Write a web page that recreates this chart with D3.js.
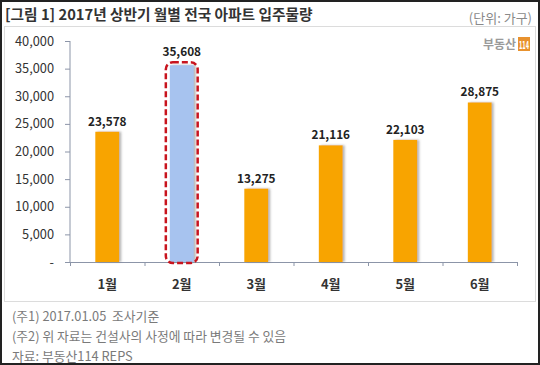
<!DOCTYPE html>
<html>
<head>
<meta charset="utf-8">
<script src="https://cdn.jsdelivr.net/npm/d3@7"></script>
<style>
  body { margin: 0; background: #fff; }
  svg { display: block; font-family: "Noto Sans CJK KR", "Noto Sans", sans-serif; }
</style>
</head>
<body>
<svg id="chart"></svg>
<script>
// data
const months = ['1월', '2월', '3월', '4월', '5월', '6월'];
const supply = [23578, 35608, 13275, 21116, 22103, 28875];
const yTicks = [0, 5000, 10000, 15000, 20000, 25000, 30000, 35000, 40000];
const highlightMonth = '2월';
const notes = ['(주1) 2017.01.05  조사기준', '(주2) 위 자료는 건설사의 사정에 따라 변경될 수 있음', '자료: 부동산114 REPS'];

const W = 540, H = 365;
const margin = {top: 41, right: 23, bottom: 103, left: 70};
const width = W - margin.left - margin.right;
const height = H - margin.top - margin.bottom;

const svg = d3.select('#chart').attr('width', W).attr('height', H);

// drop shadow for bars
const defs = svg.append('defs');
const f = defs.append('filter').attr('id', 'shadow')
    .attr('x', '-20%').attr('y', '-5%').attr('width', '160%').attr('height', '120%');
f.append('feDropShadow').attr('dx', 2).attr('dy', 0).attr('stdDeviation', 1)
    .attr('flood-color', '#777').attr('flood-opacity', 0.55);

// outer frame and inner panel
svg.append('rect').attr('x', 1).attr('y', 1).attr('width', W - 2).attr('height', H - 2)
    .attr('fill', '#fff').attr('stroke', '#222').attr('stroke-width', 2);
svg.append('rect').attr('x', 4.5).attr('y', 26.5).attr('width', 531).attr('height', 275)
    .attr('fill', '#fff').attr('stroke', '#dcdcdc');

// title
svg.append('text').attr('x', 5).attr('y', 20)
    .attr('font-size', 14.7).attr('font-weight', 'bold').attr('fill', '#333')
    .text('[그림 1] 2017년 상반기 월별 전국 아파트 입주물량');
svg.append('text').attr('x', 532).attr('y', 23).attr('text-anchor', 'end')
    .attr('font-size', 13).attr('fill', '#8a8a8a').text('(단위: 가구)');

// logo
const logo = svg.append('g');
logo.append('text').attr('x', 516).attr('y', 49).attr('text-anchor', 'end')
    .attr('font-size', 12).attr('font-weight', 'bold').attr('fill', '#9a9a9a').text('부동산');
logo.append('rect').attr('x', 518).attr('y', 37).attr('width', 12).attr('height', 14).attr('fill', '#e8922e');
logo.append('text').attr('x', 524).attr('y', 48.5).attr('text-anchor', 'middle')
    .attr('font-size', 10).attr('font-weight', 'bold').attr('fill', '#fff')
    .attr('font-family', '"DejaVu Sans Condensed", "Liberation Sans Narrow", sans-serif')
    .attr('textLength', 10).attr('lengthAdjust', 'spacingAndGlyphs').text('114');

const chart = svg.append('g').attr('transform', `translate(${margin.left},${margin.top})`);

// scales
const x = d3.scaleBand().domain(months).range([0, width]).paddingInner(0.68).paddingOuter(0.34);
const y = d3.scaleLinear().domain([0, 40000]).range([height, 0]);
const xEdges = d3.scaleLinear().domain([0, months.length]).range([0, width]);

// y axis
const yAxisG = chart.append('g')
    .call(d3.axisLeft(y).tickValues(yTicks).tickSize(5).tickPadding(11)
        .tickFormat(d => d === 0 ? '-' : d3.format(',')(d)));
yAxisG.select('.domain').attr('stroke', '#8c95a8').attr('d', `M0,0V${height}`);
yAxisG.selectAll('.tick line').attr('stroke', '#8c95a8');
yAxisG.selectAll('.tick text').attr('font-size', 12.8).attr('fill', '#333')
    .attr('font-family', '"Noto Sans CJK KR", sans-serif');

// x axis (ticks at category edges)
const xAxisG = chart.append('g').attr('transform', `translate(0,${height})`)
    .call(d3.axisBottom(xEdges).ticks(months.length).tickSize(4).tickFormat(''));
xAxisG.select('.domain').attr('stroke', '#8c95a8');
xAxisG.selectAll('.tick line').attr('stroke', '#8c95a8');

// month labels
chart.selectAll('.month')
  .data(months)
  .join('text')
    .attr('class', 'month')
    .attr('x', d => x(d) + x.bandwidth() / 2)
    .attr('y', height + 27)
    .attr('text-anchor', 'middle')
    .attr('font-size', 13).attr('font-weight', 'bold').attr('fill', '#333')
    .text(d => d);

const rows = months.map((m, i) => ({month: m, value: supply[i]}));

// bars
chart.selectAll('.bar')
  .data(rows)
  .join('rect')
    .attr('class', 'bar')
    .attr('x', d => x(d.month))
    .attr('y', d => y(d.value))
    .attr('width', x.bandwidth())
    .attr('height', d => height - y(d.value))
    .attr('fill', d => d.month === highlightMonth ? '#a7c3ef' : '#f8a400')
    .attr('filter', 'url(#shadow)');

// highlight box
const hl = rows.find(d => d.month === highlightMonth);
chart.append('rect')
    .attr('x', x(hl.month) - 4)
    .attr('y', y(hl.value) - 3)
    .attr('width', x.bandwidth() + 8)
    .attr('height', height - y(hl.value) + 4)
    .attr('rx', 7)
    .attr('fill', 'none')
    .attr('stroke', '#c8141e')
    .attr('stroke-width', 2.5)
    .attr('stroke-dasharray', '6,3');

// value labels
chart.selectAll('.value')
  .data(rows)
  .join('text')
    .attr('class', 'value')
    .attr('x', d => x(d.month) + x.bandwidth() / 2)
    .attr('y', d => y(d.value) - (d.month === highlightMonth ? 9 : 6))
    .attr('text-anchor', 'middle')
    .attr('font-size', 11.8).attr('font-weight', 'bold').attr('fill', '#222')
    .text(d => d3.format(',')(d.value));

// footnotes
svg.selectAll('.note')
  .data(notes)
  .join('text')
    .attr('class', 'note')
    .attr('x', 12)
    .attr('y', (d, i) => 321 + i * 20)
    .attr('font-size', 12.8).attr('fill', '#7a7a7a')
    .attr('xml:space', 'preserve')
    .text(d => d);
</script>
</body>
</html>
